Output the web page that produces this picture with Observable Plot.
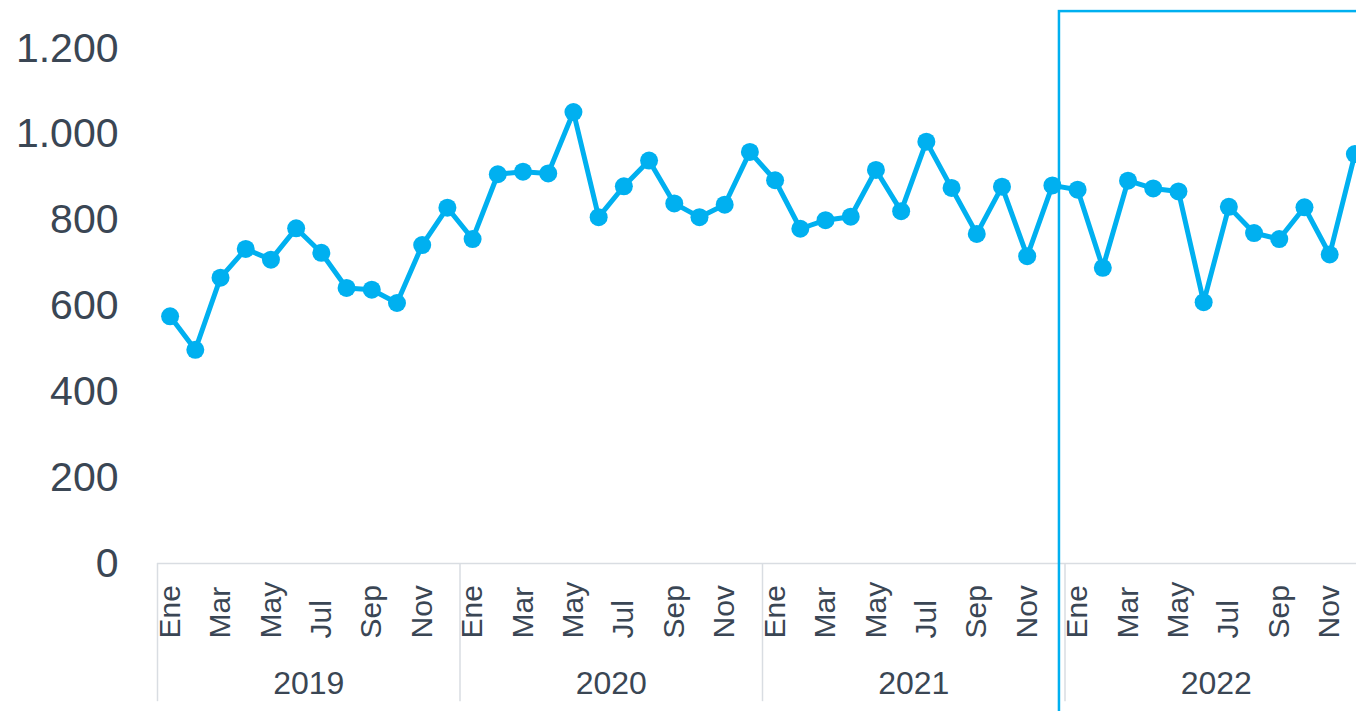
<!DOCTYPE html>
<html>
<head>
<meta charset="utf-8">
<script src="https://cdn.jsdelivr.net/npm/d3@7"></script>
<script src="https://cdn.jsdelivr.net/npm/@observablehq/plot@0.6"></script>
<style>
  html, body { margin: 0; padding: 0; background: #fff; overflow: hidden; }
  #chart { width: 1356px; height: 711px; overflow: hidden; }
  #chart svg { max-width: none !important; font-family: "Liberation Sans", Arial, sans-serif; }
</style>
</head>
<body>
<div id="chart"></div>
<script>
const years = ["2019", "2020", "2021", "2022"];
const monthNames = ["Ene", "Feb", "Mar", "Abr", "May", "Jun", "Jul", "Ago", "Sep", "Oct", "Nov", "Dic"];
const shownMonths = ["Ene", "Mar", "May", "Jul", "Sep", "Nov"];
const values2019 = [576, 498, 666, 733, 708, 781, 724, 642, 638, 607, 742, 829];
const values2020 = [756, 907, 913, 909, 1052, 807, 879, 939, 839, 807, 836, 959];
const values2021 = [893, 780, 800, 808, 917, 821, 983, 875, 768, 878, 716, 881];
const values2022 = [871, 689, 892, 874, 867, 609, 831, 770, 756, 830, 720, 954];
const yTicks = [0, 200, 400, 600, 800, 1000, 1200];
const highlightYear = "2022";

const seriesByYear = [values2019, values2020, values2021, values2022];
const data = [];
years.forEach((yr, yi) => {
  seriesByYear[yi].forEach((v, mi) => {
    data.push({year: yr, month: monthNames[mi], i: yi * 12 + mi, value: v});
  });
});
const monthLabels = data.filter(d => shownMonths.includes(d.month));
const yearLabels = years.map((yr, yi) => ({year: yr, i: yi * 12 + 5.5}));
const separators = years.map((yr, yi) => yi * 12 - 0.5);
const hiIndex = years.indexOf(highlightYear) * 12;

const loc = d3.formatLocale({decimal: ",", thousands: ".", grouping: [3]});
const fmt = loc.format(",d");

const blue = "#00B0F0";
const textColor = "#3A4654";
const axisGrey = "#D9DDE2";

const chart = Plot.plot({
  width: 1370,
  height: 711,
  marginLeft: 157,
  marginRight: 3,
  marginTop: 48,
  marginBottom: 148,
  style: {fontFamily: "Liberation Sans, Arial, sans-serif", overflow: "visible", maxWidth: "none"},
  x: {domain: [-0.5, 47.5], axis: null},
  y: {domain: [0, 1200], axis: null},
  marks: [
    Plot.ruleY([0], {stroke: axisGrey, strokeWidth: 1.5}),
    Plot.ruleX(separators, {x: d => d, y1: 0, y2: -322, stroke: axisGrey, strokeWidth: 1.5}),
    Plot.axisY(yTicks, {
      tickSize: 0, tickPadding: 39, fontSize: 41, fill: textColor,
      tickFormat: fmt, label: null
    }),
    Plot.text(monthLabels, {
      x: "i", y: () => 0, text: "month", rotate: -90, textAnchor: "start",
      lineAnchor: "middle", dy: 75, fontSize: 30, fill: textColor
    }),
    Plot.text(yearLabels, {
      x: "i", y: () => 0, text: "year", dy: 120, fontSize: 32, fill: textColor
    }),
    Plot.rect([highlightYear], {
      x1: () => hiIndex - 0.72, x2: () => hiIndex + 13, y1: () => -400, y2: () => 1286,
      fill: "none", stroke: blue, strokeWidth: 2.5
    }),
    Plot.line(data, {x: "i", y: "value", stroke: blue, strokeWidth: 5}),
    Plot.dot(data, {x: "i", y: "value", r: 9, fill: blue, stroke: "none"})
  ]
});
document.getElementById("chart").appendChild(chart);
</script>
</body>
</html>
